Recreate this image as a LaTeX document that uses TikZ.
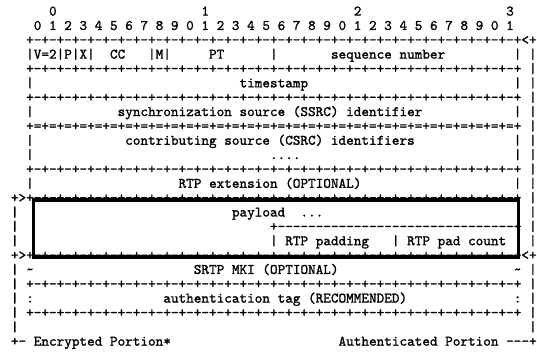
\documentclass[tikz,border=0pt]{standalone}
\usepackage{fontspec}
\setmonofont{lmmono10-regular.otf}[FakeBold=1.3]
\newlength\cw
\setlength\cw{7.62pt}
\newcommand\sk[1]{\hspace*{#1\cw}}
\newcommand\hy{-\kern0pt}
\newcommand\bq{-+-+-+-+-+-+-+-+}
\newcommand\bdr{+\bq\bq\bq\bq}
\newcommand\bqe{=+=+=+=+=+=+=+=+}
\newcommand\bdre{+\bqe\bqe\bqe\bqe}
\newcommand\dten{\hy\hy\hy\hy\hy\hy\hy\hy\hy\hy}
\newcommand\monof{\ttfamily\fontsize{14.51pt}{16pt}\selectfont}
\newcommand\rowtxt[4]{\node[txt] (#1) at ({7.62*#2-11.91},{10.7+14.35*#3+4.9}) {#4};}
\begin{document}
\begin{tikzpicture}[x=1pt,y=-1pt,
  txt/.style={anchor=base west, inner sep=0pt, outer sep=0pt, font=\monof, text=black},
  thick box/.style={draw=black, line width=3.8pt}]
\useasboundingbox (0,0) rectangle (537,351);
\clip (0,0) rectangle (537,351);
\rowtxt{r0}{8}{0}{0\sk{19}1\sk{19}2\sk{19}3}
\rowtxt{r1}{6}{1}{0\sk{1}1\sk{1}2\sk{1}3\sk{1}4\sk{1}5\sk{1}6\sk{1}7\sk{1}8\sk{1}9\sk{1}0\sk{1}1\sk{1}2\sk{1}3\sk{1}4\sk{1}5\sk{1}6\sk{1}7\sk{1}8\sk{1}9\sk{1}0\sk{1}1\sk{1}2\sk{1}3\sk{1}4\sk{1}5\sk{1}6\sk{1}7\sk{1}8\sk{1}9\sk{1}0\sk{1}1}
\rowtxt{r2}{5}{2}{\bdr<+}
\rowtxt{r3}{5}{3}{|V=2|P|X|\sk{2}CC\sk{3}|M|\sk{5}PT\sk{6}|\sk{7}sequence\sk{1}number\sk{9}|\sk{1}|}
\rowtxt{r4}{5}{4}{\bdr\sk{1}|}
\rowtxt{r5}{5}{5}{|\sk{27}timestamp\sk{27}|\sk{1}|}
\rowtxt{r6}{5}{6}{\bdr\sk{1}|}
\rowtxt{r7}{5}{7}{|\sk{11}synchronization\sk{1}source\sk{1}(SSRC)\sk{1}identifier\sk{12}|\sk{1}|}
\rowtxt{r8}{5}{8}{\bdre\sk{1}|}
\rowtxt{r9}{5}{9}{|\sk{12}contributing\sk{1}source\sk{1}(CSRC)\sk{1}identifiers\sk{13}|\sk{1}|}
\rowtxt{r10}{5}{10}{|\sk{31}....\sk{28}|\sk{1}|}
\rowtxt{r11}{5}{11}{\bdr\sk{1}|}
\rowtxt{r12}{5}{12}{|\sk{19}RTP\sk{1}extension\sk{1}(OPTIONAL)\sk{20}|\sk{1}|}
\rowtxt{r13}{3}{13}{+>\bdr\sk{1}|}
\rowtxt{r14}{3}{14}{|\sk{28}payload\sk{2}...\sk{27}|}
\rowtxt{r15}{3}{15}{|\sk{33}+\dten\dten\dten\hy+\sk{1}|}
\rowtxt{r16}{3}{16}{|\sk{33}|\sk{1}RTP\sk{1}padding\sk{3}|\sk{1}RTP\sk{1}pad\sk{1}count\sk{3}|}
\rowtxt{r17}{3}{17}{+>\bdr<+}
\rowtxt{r18}{3}{18}{|\sk{1}\textasciitilde\sk{21}SRTP\sk{1}MKI\sk{1}(OPTIONAL)\sk{23}\textasciitilde\sk{1}|}
\rowtxt{r19}{3}{19}{|\sk{1}\bdr\sk{1}|}
\rowtxt{r20}{3}{20}{|\sk{1}:\sk{17}authentication\sk{1}tag\sk{1}(RECOMMENDED)\sk{14}:\sk{1}|}
\rowtxt{r21}{3}{21}{|\sk{1}\bdr\sk{1}|}
\rowtxt{r22}{3}{22}{|\sk{67}|}
\rowtxt{r23}{3}{23}{+\hy\sk{1}Encrypted\sk{1}Portion*\sk{22}Authenticated\sk{1}Portion\sk{1}\hy\hy\hy+}
\draw[thick box] (33.5,200) rectangle (518.5,257);
\end{tikzpicture}
\end{document}
